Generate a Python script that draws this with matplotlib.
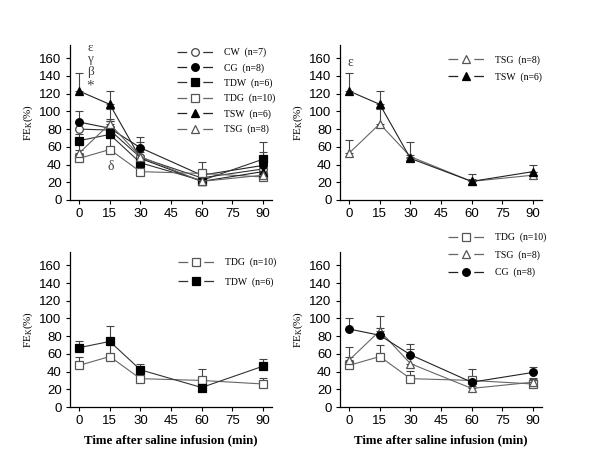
import numpy as np
import matplotlib.pyplot as plt
from matplotlib.lines import Line2D

time = [0, 15, 30, 60, 90]

# FE_K (%) means and upper error bars per group
cw = [80, 79, 48, 25, 35]
cw_err = [8, 10, 6, 5, 30]
cg = [88, 81, 59, 28, 39]
cg_err = [12, 8, 12, 6, 6]
tdw = [67, 74, 42, 22, 46]
tdw_err = [7, 17, 7, 3, 8]
tdg = [47, 57, 32, 30, 26]
tdg_err = [9, 13, 9, 13, 7]
tsw = [123, 108, 47, 21, 32]
tsw_err = [20, 15, 4, 8, 7]
tsg = [53, 86, 49, 21, 28]
tsg_err = [15, 17, 17, 3, 4]

styles = {
    "CW": dict(marker="o", mfc="white", mec="#444444", lc="#333333"),
    "CG": dict(marker="o", mfc="black", mec="black", lc="#222222"),
    "TDW": dict(marker="s", mfc="black", mec="black", lc="#333333"),
    "TDG": dict(marker="s", mfc="white", mec="#555555", lc="#666666"),
    "TSW": dict(marker="^", mfc="black", mec="black", lc="#222222"),
    "TSG": dict(marker="^", mfc="white", mec="#555555", lc="#666666"),
}
series = {
    "CW": (cw, cw_err, "CW  (n=7)"),
    "CG": (cg, cg_err, "CG  (n=8)"),
    "TDW": (tdw, tdw_err, "TDW  (n=6)"),
    "TDG": (tdg, tdg_err, "TDG  (n=10)"),
    "TSW": (tsw, tsw_err, "TSW  (n=6)"),
    "TSG": (tsg, tsg_err, "TSG  (n=8)"),
}

serif = ["Liberation Serif", "DejaVu Serif"]
sans = ["Liberation Sans", "DejaVu Sans"]

fig = plt.figure(figsize=(6, 4.62), dpi=100)
w, h = 202 / 600, 155 / 462
positions = [
    [70 / 600, 1 - 200 / 462, w, h],
    [340 / 600, 1 - 200 / 462, w, h],
    [70 / 600, 1 - 407 / 462, w, h],
    [340 / 600, 1 - 407 / 462, w, h],
]
panels = [
    (["CW", "CG", "TDW", "TDG", "TSW", "TSG"], (0.485, 1.04), 0.6),
    (["TSG", "TSW"], (0.49, 0.99), 0.75),
    (["TDG", "TDW"], (0.49, 1.02), 1.05),
    (["TDG", "TSG", "CG"], (0.49, 1.18), 0.80),
]


def draw_series(ax, key, ms=5.5):
    y, err, _ = series[key]
    st = styles[key]
    ax.errorbar(time, y, yerr=[np.zeros(len(err)), err], fmt="none",
                ecolor="#444444", elinewidth=0.8, capsize=3, capthick=0.8, zorder=2)
    ax.plot(time, y, color=st["lc"], lw=0.8, marker=st["marker"], ms=ms,
            mfc=st["mfc"], mec=st["mec"], mew=0.9, zorder=3)


for pos, (keys, anchor, spacing) in zip(positions, panels):
    ax = fig.add_axes(pos)
    for k in keys:
        draw_series(ax, k)
    ax.set_xlim(-4.5, 94.5)
    ax.set_ylim(0, 175)
    ax.set_xticks([0, 15, 30, 45, 60, 75, 90])
    ax.set_yticks(range(0, 161, 20))
    for s in ["top", "right"]:
        ax.spines[s].set_visible(False)
    for s in ["left", "bottom"]:
        ax.spines[s].set_linewidth(0.9)
    ax.tick_params(direction="out", length=3, width=0.8, labelsize=9.5, pad=3)
    for lab in ax.get_xticklabels() + ax.get_yticklabels():
        lab.set_family(sans)
    ax.set_ylabel("FE$_\\mathregular{K}$(%)", family=serif, fontsize=8, labelpad=3)

    handles = []
    for k in keys:
        st = styles[k]
        handles.append(Line2D([0], [0], color=st["lc"], lw=0.9,
                              dashes=(7.8, 12.8, 7.8, 100),
                              marker=st["marker"], ms=5.5, mfc=st["mfc"],
                              mec=st["mec"], mew=0.9))
    ax.legend(handles, [series[k][2] for k in keys], loc="upper left",
              bbox_to_anchor=anchor, frameon=False, numpoints=1,
              handlelength=3.7, handletextpad=1.2, labelspacing=spacing,
              prop={"family": serif, "size": 7})

    if pos[1] < 0.3:
        ax.set_xlabel("Time after saline infusion (min)", family=serif,
                      fontsize=9.3, fontweight="bold", labelpad=5)

    if len(keys) == 6:
        ax_1 = ax
    if keys == ["TSG", "TSW"]:
        ax_2 = ax

# significance marks
for txt, yv in zip(["ε", "γ", "β", "*"], [172, 159, 145, 129]):
    ax_1.text(5.4, yv, txt, family=serif, fontsize=11 if txt == "*" else 9.5,
              color="#444444", ha="center", va="center")
ax_1.text(15.3, 38, "δ", family=serif, fontsize=10, color="#444444",
          ha="center", va="center")
ax_2.text(0.6, 155, "ε", family=serif, fontsize=10, color="#444444",
          ha="center", va="center")

plt.savefig("out.png", dpi=100)
plt.close()
